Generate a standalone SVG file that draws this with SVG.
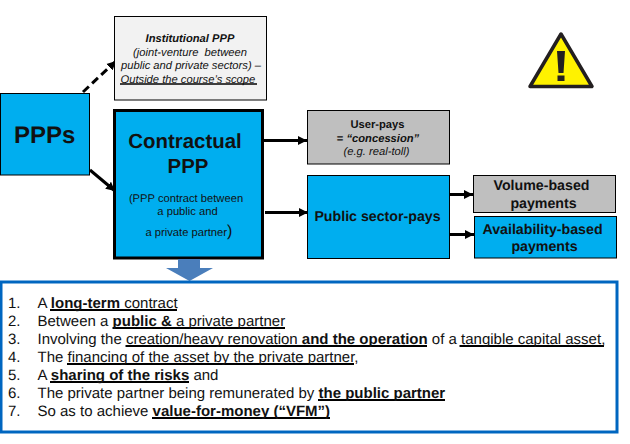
<svg xmlns="http://www.w3.org/2000/svg" width="630" height="444" viewBox="0 0 630 444">
<style>
text{font-family:"Liberation Sans",Arial,sans-serif;fill:#111;text-rendering:geometricPrecision}
.m{text-anchor:middle}
.b{font-weight:bold}
.i{font-style:italic}
.blue{fill:#00AEEF;stroke:#000;stroke-width:1}
.gray{fill:#BFBFBF;stroke:#000;stroke-width:1}
.l{font-size:15px}
.s{font-size:11.2px}
.t{font-size:14.2px}
.h{font-size:20.4px}
.u{stroke:#000;stroke-width:2;fill:none}
.c{stroke:#000;fill:none;stroke-width:3}
</style>
<defs>
<marker id="a" markerUnits="userSpaceOnUse" markerWidth="10" markerHeight="10" refX="9" refY="5" orient="auto"><path d="M0,0.500 L9,5 L0,9.500Z" fill="#000"/></marker>
</defs>
<g id="connectors">
<path class="c" d="M83,92 L116,61" stroke-dasharray="8 4.500" marker-end="url(#a)"/>
<path class="c" d="M90,170 L115,191" marker-end="url(#a)"/>
<path class="c" d="M264,140.500 L307,140.500" marker-end="url(#a)"/>
<path class="c" d="M265,212.500 L308,212.500" marker-end="url(#a)"/>
<path class="c" d="M450,194.500 L473,194.500" marker-end="url(#a)"/>
<path class="c" d="M450,234.500 L474,234.500" marker-end="url(#a)"/>
</g>
<g id="warning">
<path d="M561,34 L592,86.500 L530,86.500Z" fill="#FFF200" stroke="#231F20" stroke-width="3.500" stroke-linejoin="round"/>
<path d="M557,51 L565,51 L563.500,73 L558.500,73Z M557.500,75.500 H564.500 V81 H557.500Z" fill="#231F20"/>
</g>
<g id="ppps">
<rect class="blue" x="0.500" y="93.500" width="89" height="81.500"/>
<text class="b m" x="44.700" y="143" font-size="24">PPPs</text>
</g>
<g id="institutional">
<rect x="114.500" y="16.500" width="152" height="83.500" fill="#F2F2F2" stroke="#000"/>
<text class="b i m s" x="190" y="42" >Institutional PPP</text>
<text class="i m s" x="190" y="56" xml:space="preserve">(joint-venture  between</text>
<text class="i m s" x="191" y="69">public and private sectors) –</text>
<text class="i s" x="120.500" y="82.500">Outside the course’s scope</text>
<path d="M120,84 H257" stroke="#000" stroke-width="1.500" fill="none"/>
</g>
<g id="contractual">
<rect x="114.500" y="110.500" width="148" height="147.500" fill="#00AEEF" stroke="#000" stroke-width="3"/>
<text class="b m h" x="185" y="148">Contractual</text>
<text class="b m h" x="188" y="172.500">PPP</text>
<text class="m s" x="186" y="202">(PPP contract between</text>
<text class="m s" x="187.500" y="215">a public and</text>
<text class="s" x="145.500" y="236">a private partner<tspan font-size="16">)</tspan></text>
</g>
<g id="user-pays">
<rect class="gray" x="307.500" y="110.500" width="142" height="53.500"/>
<text class="b m s" x="377.500" y="128">User-pays</text>
<text class="b m s" x="378" y="142">= <tspan class="i">“concession”</tspan></text>
<text class="i m s" x="376.500" y="155">(e.g. real-toll)</text>
</g>
<g id="public-sector-pays">
<rect class="blue" x="307.500" y="175.500" width="142" height="83"/>
<text class="b m t" x="377.500" y="221">Public sector-pays</text>
</g>
<g id="volume">
<rect class="gray" x="473.500" y="175.500" width="142" height="37"/>
<text class="b m t" x="541.500" y="190">Volume-based</text>
<text class="b m t" x="543.500" y="207.500">payments</text>
</g>
<g id="availability">
<rect class="blue" x="474.500" y="216.500" width="142" height="41.500"/>
<text class="b m t" x="542.500" y="234">Availability-based</text>
<text class="b m t" x="544.500" y="251">payments</text>
</g>
<g id="down-arrow">
<path d="M178,259 H200 V268 H213 L189.500,281 L166,268 H178Z" fill="#4A7EBB"/>
</g>
<g id="criteria">
<rect x="1" y="282" width="616" height="150" fill="#fff" stroke="#0066C0" stroke-width="3"/>
<path class="u" d="M50,310 H177 M112.500,328 H285 M125.500,346 H427 M459.500,346 H604 M67,364 H354 M50,382 H189 M318,400 H445 M152,418 H330"/>
<text class="l" x="8" y="308">1.</text><text class="l" x="37.500" y="308">A <tspan class="b">long-term</tspan> contract</text>
<text class="l" x="8" y="326">2.</text><text class="l" x="37.500" y="326">Between a <tspan class="b">public &amp;</tspan> a private partner</text>
<text class="l" x="8" y="344">3.</text><text class="l" x="37.500" y="344">Involving the creation/heavy renovation <tspan class="b">and the operation</tspan> of a tangible capital asset,</text>
<text class="l" x="8" y="362">4.</text><text class="l" x="37.500" y="362">The financing of the asset by the private partner,</text>
<text class="l" x="8" y="380">5.</text><text class="l" x="37.500" y="380">A <tspan class="b">sharing of the risks</tspan> and</text>
<text class="l" x="8" y="398">6.</text><text class="l" x="37.500" y="398">The private partner being remunerated by <tspan class="b">the public partner</tspan></text>
<text class="l" x="8" y="416">7.</text><text class="l" x="37.500" y="416">So as to achieve <tspan class="b">value-for-money (“VFM”)</tspan></text>
</g>
</svg>
